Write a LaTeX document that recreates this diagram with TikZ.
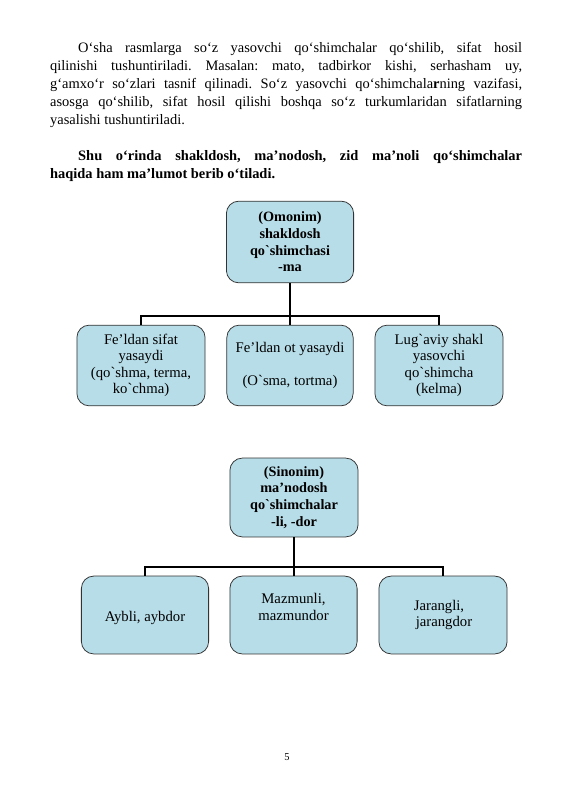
\documentclass[tikz,border=0pt]{standalone}
\usepackage{fontspec}
\setmainfont{Liberation Serif}[Ligatures=TeXOff]
\definecolor{blokfill}{HTML}{B7DDE8}
\begin{document}
\begin{tikzpicture}[x=1.0531pt,y=-1.0531pt]
  \tikzset{blok/.style={draw=black!80, fill=blokfill, rounded corners=13pt, line width=0.8pt, align=center, inner sep=2pt, font=\fontsize{15.5}{17.3}\selectfont},
    bosh/.style={blok, font=\fontsize{15}{17.6}\selectfont\bfseries},
    bar/.style={line width=1.7pt},
    matn/.style={anchor=north west, inner sep=0pt, text width=497pt, align=justify, font=\fontsize{15.2}{19}\selectfont}}
  \useasboundingbox[fill=white] (0,0) rectangle (565,800);

  \node[matn] at (50,42) (p1) {\frenchspacing\hyphenpenalty=10000\exhyphenpenalty=10000\hspace*{29.5pt}O‘sha rasmlarga so‘z yasovchi qo‘shimchalar qo‘shilib, sifat hosil\linebreak qilinishi tushuntiriladi. Masalan: mato, tadbirkor kishi, serhasham uy,\linebreak g‘amxo‘r so‘zlari tasnif qilinadi. So‘z yasovchi qo‘shimchala\textbf{r}ning vazifasi,\linebreak asosga qo‘shilib, sifat hosil qilishi boshqa so‘z turkumlaridan sifatlarning\linebreak yasalishi tushuntiriladi.};
  \node[matn, font=\fontsize{15.2}{19}\selectfont\bfseries] at (50,150) (p2) {\frenchspacing\hyphenpenalty=10000\hspace*{29.5pt}Shu o‘rinda shakldosh, ma’nodosh, zid ma’noli qo‘shimchalar\linebreak haqida ham ma’lumot berib o‘tiladi.};

  % omonim
  \node[bosh, minimum width=134pt, minimum height=86pt] at (290,242) (o0) {(Omonim)\\ shakldosh\\ qo`shimchasi\\ -ma};
  \node[blok, minimum width=135pt, minimum height=85pt] at (141,365.5) (o1) {Fe’ldan sifat\\ yasaydi\\ (qo`shma, terma,\\ ko`chma)};
  \node[blok, minimum width=133pt, minimum height=85pt] at (290,365.5) (o2) {Fe’ldan ot yasaydi\\[17.3pt] (O`sma, tortma)};
  \node[blok, minimum width=135pt, minimum height=85pt] at (439,365.5) (o3) {Lug`aviy shakl\\ yasovchi\\ qo`shimcha\\ (kelma)};
  \coordinate (ob) at (290,316);

  \path[bar] (o0) edge node {} (o2);
  \draw[bar] (o1.north) |- (ob) -| (o3.north);

  % sinonim
  \node[bosh, minimum width=135pt, minimum height=83pt] at (294,497.5) (s0) {(Sinonim)\\ ma’nodosh\\ qo`shimchalar\\ -li, -dor};
  \node[blok, minimum width=134pt, minimum height=82pt] at (145,615) (s1) {{}\\ Aybli, aybdor};
  \node[blok, minimum width=134pt, minimum height=82pt] at (293.5,615) (s2) {Mazmunli,\\ mazmundor\\ {}};
  \node[blok, align=left, minimum width=135pt, minimum height=82pt] at (443,615) (s3) {Jarangli,\\ \hspace*{2pt}jarangdor};
  \coordinate (sb) at (294,567);

  \path[bar] (s0) edge node {} (s0 |- s2.north);
  \draw[bar] (s1.north) |- (sb) -| (s3.north);

  \node at (287,757) (pg) {\fontsize{11}{13}\selectfont 5};
\end{tikzpicture}
\end{document}
